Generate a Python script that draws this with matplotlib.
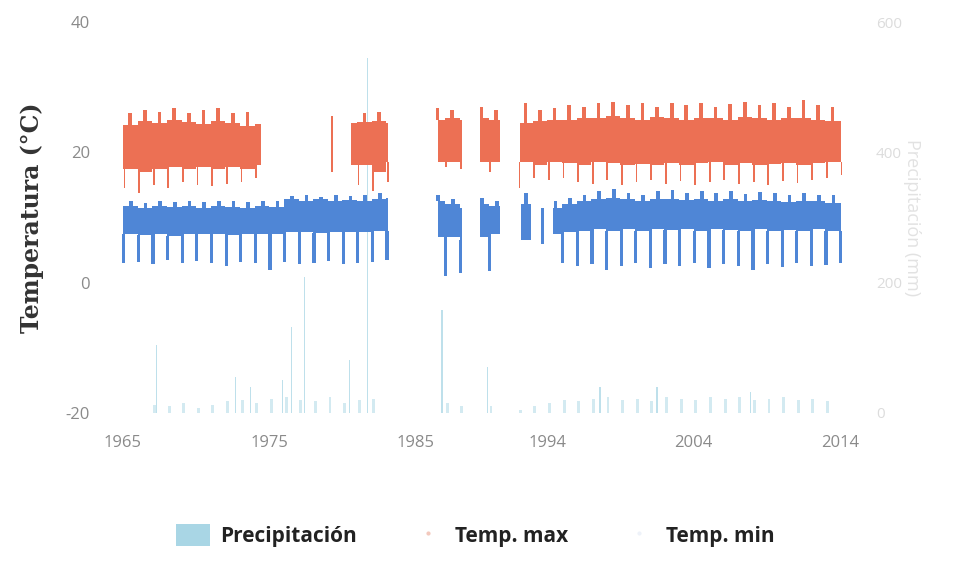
import matplotlib.pyplot as plt
from matplotlib.lines import Line2D
from matplotlib.patches import Patch
import numpy as np

plt.rcParams['axes.unicode_minus'] = False

nan = np.nan
years = np.arange(1965, 2015)

# record coverage (decimal years) of each series
tmax_start = [1965.0, 1979.25, 1980.6, 1986.5, 1989.4, 1992.1]
tmax_end = [1974.45, 1979.35, 1983.1, 1988.2, 1990.8, 2014.1]
tmin_start = [1965.0, 1986.5, 1989.4, 1992.2, 1993.6, 1994.4]
tmin_end = [1983.1, 1988.2, 1990.8, 1992.9, 1993.75, 2014.1]
pp_start = [1966.4, 1986.5, 1989.4, 1992.0]
pp_end = [1983.1, 1988.2, 1990.6, 2014.1]

# Temp. max per year: usual band (lo/hi), summer peak, lowest values
tmax_hi = [24.2, 24.8, 24.5, 25.0, 24.6, 24.3, 24.8, 24.5, 24.0, 24.4,
           nan, nan, nan, nan, 25.5, 24.5, 24.6, 24.8, 24.5, nan, nan,
           25.0, 25.2, 25.0, 25.2, 25.0, nan,
           24.5, 24.8, 25.0, 25.0, 25.2, 25.3, 25.5, 25.2, 25.0, 25.4, 25.2, 25.0,
           25.3, 25.2, 25.0, 25.4, 25.2, 25.0, 25.3, 25.2, 25.0, 24.8, 24.8]
tmax_lo = [17.5, 17.0, 17.5, 17.8, 17.5, 17.8, 17.5, 17.8, 17.5, 18.0,
           nan, nan, nan, nan, 17.0, 18.0, 18.0, 17.0, 18.5, nan, nan,
           18.5, 18.5, 18.5, 18.5, 18.5, nan,
           18.5, 18.0, 18.5, 18.3, 18.0, 18.5, 18.3, 18.0, 18.2, 18.0, 18.3, 18.0,
           18.3, 18.5, 18.0, 18.3, 18.0, 18.2, 18.3, 18.0, 18.3, 18.5, 18.5]
tmax_peak = [26.0, 26.5, 26.2, 26.8, 26.0, 26.5, 26.8, 26.0, 26.2, 25.5,
             nan, nan, nan, nan, nan, 25.5, 26.0, 26.2, 25.8, nan, nan,
             26.8, 26.5, 26.0, 27.0, 26.5, nan,
             27.5, 26.5, 26.8, 27.2, 27.0, 27.5, 27.8, 27.2, 27.5, 27.0, 27.6, 27.2,
             27.5, 27.0, 27.4, 27.8, 27.2, 27.5, 27.0, 28.0, 27.3, 27.0, 26.8]
tmax_dip = [14.5, 13.8, 15.0, 14.5, 15.5, 15.0, 14.8, 15.2, 15.5, 16.0,
            nan, nan, nan, nan, nan, 16.0, 15.0, 14.0, 15.5, nan, nan,
            17.5, 17.8, 17.5, 16.5, 17.0, nan,
            14.5, 16.0, 15.8, 16.0, 15.5, 15.2, 15.8, 15.0, 15.5, 15.8, 15.2, 15.6,
            15.0, 15.4, 15.8, 15.2, 15.5, 15.0, 15.6, 15.3, 15.8, 16.0, 16.5]

# Temp. min per year: usual band (lo/hi), peak, winter minimum
tmin_hi = [11.8, 11.5, 11.8, 11.6, 11.8, 11.5, 11.7, 11.6, 11.5, 11.8,
           11.6, 12.8, 12.6, 12.8, 12.5, 12.7, 12.6, 12.9, 13.0, nan, nan,
           12.5, 12.0, 11.5, 12.0, 11.8, nan,
           12.0, 11.5, 11.5, 12.0, 12.5, 12.8, 13.0, 12.8, 12.6, 12.8, 12.9, 12.7,
           12.8, 12.6, 12.8, 12.5, 12.7, 12.6, 12.4, 12.6, 12.5, 12.3, 12.2]
tmin_lo = [7.5, 7.3, 7.5, 7.2, 7.5, 7.4, 7.5, 7.3, 7.5, 7.4,
           7.5, 7.8, 7.8, 7.6, 7.8, 7.7, 7.8, 7.9, 8.0, nan, nan,
           7.0, 7.0, 6.5, 7.0, 7.5, nan,
           6.5, 6.0, 7.5, 7.8, 8.0, 8.2, 8.0, 8.2, 8.0, 8.3, 8.1, 8.2,
           8.0, 8.2, 8.1, 8.0, 8.2, 8.0, 8.1, 8.0, 8.2, 8.0, 8.0]
tmin_peak = [12.5, 12.3, 12.6, 12.4, 12.5, 12.4, 12.5, 12.6, 12.4, 12.5,
             12.5, 13.3, 13.4, 13.2, 13.5, 13.3, 13.4, 13.8, 14.2, nan, nan,
             13.5, 12.8, 12.5, 13.0, 12.5, nan,
             13.8, 13.5, 12.5, 13.0, 13.5, 14.0, 14.3, 13.8, 13.5, 14.0, 14.2, 13.8,
             14.0, 13.7, 14.0, 13.6, 13.9, 13.7, 13.5, 13.8, 13.5, 13.4, 13.2]
tmin_tooth = [3.0, 3.2, 2.8, 3.5, 3.0, 3.3, 3.0, 2.5, 3.2, 3.0,
              2.0, 3.2, 2.8, 3.0, 3.3, 2.8, 3.0, 3.2, 3.5, nan, nan,
              2.0, 1.0, 1.5, 2.5, 1.8, nan,
              1.5, 0.5, 2.0, 3.0, 2.5, 2.8, 2.0, 2.5, 3.0, 2.2, 2.8, 2.5,
              3.0, 2.3, 2.8, 2.5, 2.0, 2.8, 2.4, 3.0, 2.5, 2.7, 3.0]

# Precipitación: usual wet-season daily maximum per year (mm) and the big events
pp_year = [nan, 8, 12, 10, 15, 8, 12, 18, 20, 15, 22, 25, 20, 18, 25, 15, 20, 22, 18,
           nan, nan, 20, 15, 10, 12, 10, nan,
           5, 10, 15, 20, 18, 22, 25, 20, 22, 18, 25, 22, 20, 25, 22, 24, 20, 22,
           25, 20, 22, 18, 20]
pp_event_date = [1967.3, 1972.7, 1973.7, 1975.9, 1976.5, 1977.4, 1980.5, 1981.7,
                 1986.8, 1989.9, 1997.6, 2001.5, 2007.9]
pp_event_mm = [104, 55, 40, 50, 132, 209, 81, 545, 158, 71, 40, 40, 32]

year_ticks = [1965, 1975, 1985, 1994, 2004, 2014]

c_max = '#ec7054'
c_min = '#4f86d6'
c_pp = '#a9d6e5'


def covered(t, starts, ends):
    return any(s <= t <= e for s, e in zip(starts, ends))


def band_bars(ax, lo, hi, starts, ends, color):
    lefts, widths, bottoms, heights = [], [], [], []
    for y, a, b in zip(years, lo, hi):
        if np.isnan(a) or np.isnan(b):
            continue
        for s, e in zip(starts, ends):
            l, r = max(y, s), min(y + 1, e)
            if r > l:
                lefts.append(l)
                widths.append(r - l)
                bottoms.append(a)
                heights.append(b - a)
    ax.bar(lefts, heights, width=widths, bottom=bottoms, align='edge',
           color=color, linewidth=0)


def spikes(ax, lo, hi, offset, width, starts, ends, color):
    xs, bottoms, heights = [], [], []
    for y, a, b in zip(years, lo, hi):
        t = y + offset
        if np.isnan(a) or np.isnan(b) or not covered(t, starts, ends):
            continue
        xs.append(t)
        bottoms.append(min(a, b))
        heights.append(abs(b - a))
    ax.bar(xs, heights, width=width, bottom=bottoms, color=color, linewidth=0)


fig = plt.figure(figsize=(9.55, 5.70), dpi=100)
ax = fig.add_axes([118 / 955, 1 - 413 / 570, 730 / 955, 391 / 570])
ax2 = ax.twinx()
ax.set_zorder(ax2.get_zorder() + 1)
ax.patch.set_visible(False)

# precipitation (right axis)
pp_x, pp_h = [], []
for y, v in zip(years, pp_year):
    if not np.isnan(v) and covered(y + 0.15, pp_start, pp_end):
        pp_x.append(y + 0.15)
        pp_h.append(v)
ax2.bar(pp_x, pp_h, width=0.2, color=c_pp, alpha=0.5, linewidth=0)
ax2.bar(pp_event_date, pp_event_mm, width=0.08, color=c_pp, alpha=0.75, linewidth=0)

# temperatures (left axis)
band_bars(ax, tmax_lo, tmax_hi, tmax_start, tmax_end, c_max)
spikes(ax, tmax_hi, tmax_peak, 0.5, 0.25, tmax_start, tmax_end, c_max)
spikes(ax, tmax_dip, tmax_lo, 0.1, 0.12, tmax_start, tmax_end, c_max)
band_bars(ax, tmin_lo, tmin_hi, tmin_start, tmin_end, c_min)
spikes(ax, tmin_hi, tmin_peak, 0.55, 0.25, tmin_start, tmin_end, c_min)
spikes(ax, tmin_tooth, tmin_lo, 0.05, 0.22, tmin_start, tmin_end, c_min)

ax.set_xlim(1964.66, 2014.55)
ax.set_ylim(-20, 40)
ax2.set_ylim(0, 600)
ax.set_yticks([-20, 0, 20, 40])
ax2.set_yticks([0, 200, 400, 600])
ax.set_xticks(year_ticks)
ax.set_xticklabels([str(t) for t in year_ticks])

for a in (ax, ax2):
    for sp in a.spines.values():
        sp.set_visible(False)
ax.tick_params(axis='both', length=0, labelsize=12, labelcolor='#8a8a8a')
ax.tick_params(axis='y', pad=20)
ax.tick_params(axis='x', pad=16)
ax2.tick_params(axis='y', length=0, labelsize=11, labelcolor='#dcdcdc', pad=20)
for lab in ax.get_xticklabels() + ax.get_yticklabels() + ax2.get_yticklabels():
    lab.set_family('Open Sans')

ax.set_ylabel('Temperatura (°C)', family='DejaVu Serif', fontweight='bold',
              fontsize=17, color='#333333', labelpad=16)
ax2.set_ylabel('Precipitación (mm)', family='Open Sans', fontsize=13,
               color='#e2e2e2', rotation=-90, labelpad=14)

handles = [Patch(facecolor=c_pp, edgecolor='none'),
           Line2D([], [], marker='.', linestyle='none', color='#f3c9bd', markersize=4),
           Line2D([], [], marker='.', linestyle='none', color='#eef2f9', markersize=4)]
fig.legend(handles, ['Precipitación', 'Temp. max', 'Temp. min'],
           loc='center', bbox_to_anchor=(0.498, 0.061), ncol=3, frameon=False,
           prop={'family': 'Open Sans', 'weight': 'bold', 'size': 15},
           handlelength=1.6, handleheight=1.3, handletextpad=0.5, columnspacing=2.6,
           labelcolor='#222222')

fig.savefig('out.png', dpi=100)
